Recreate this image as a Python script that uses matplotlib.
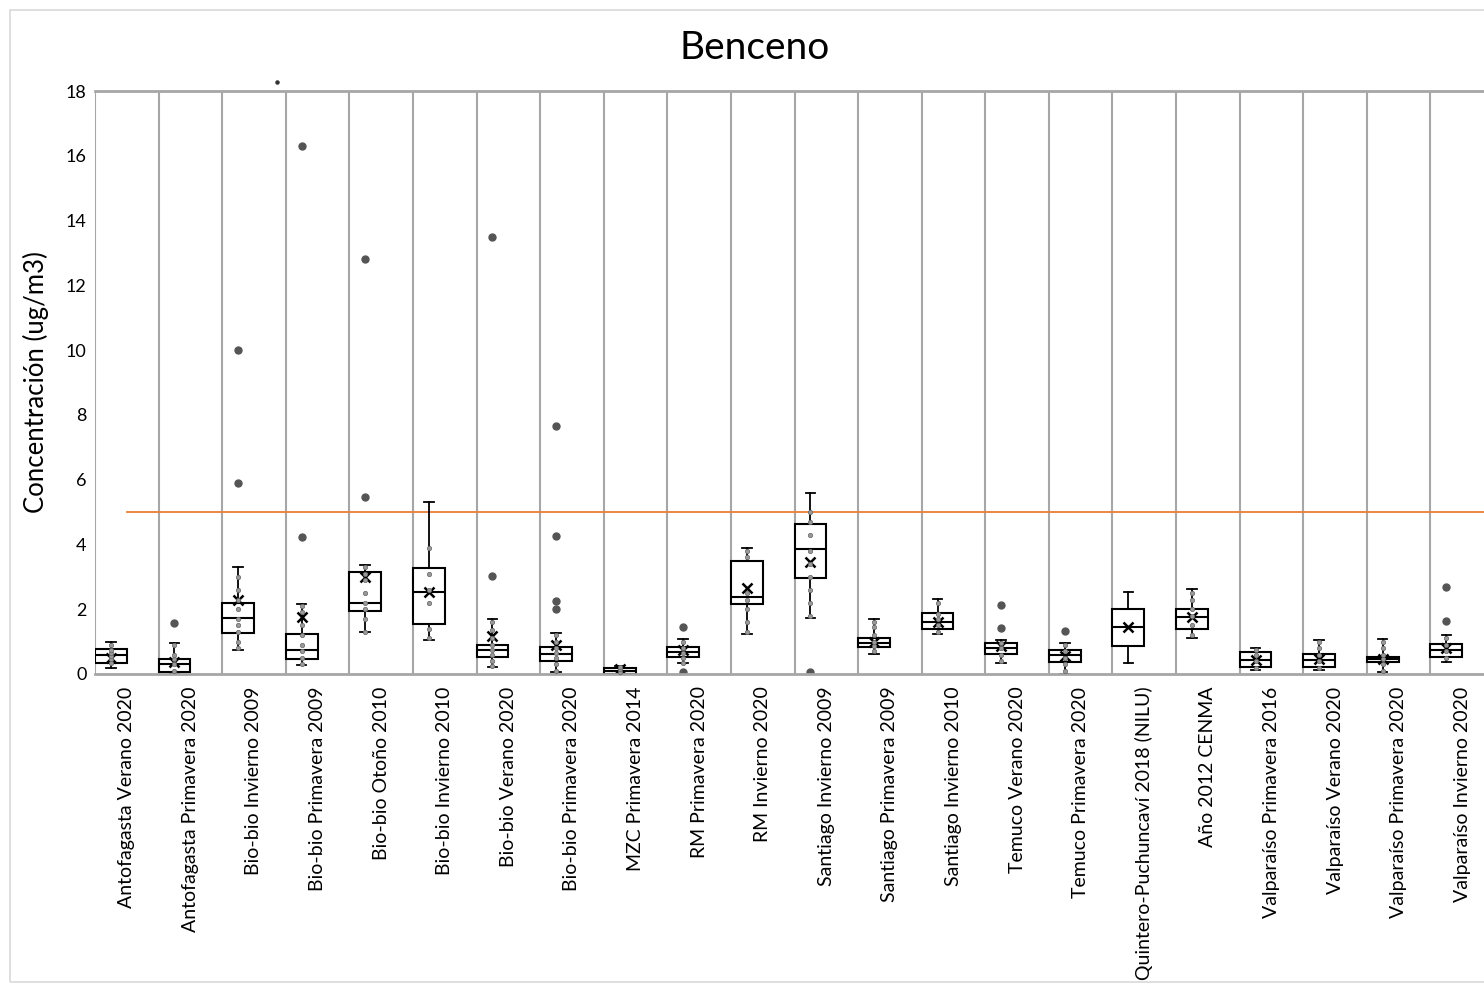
import matplotlib
matplotlib.use("Agg")
import matplotlib.pyplot as plt
from matplotlib.patches import Rectangle

plt.rcParams['font.family'] = ['Lato', 'DejaVu Sans']

categories = [
    "Antofagasta Verano 2020", "Antofagasta Primavera 2020", "Bio-bio Invierno 2009",
    "Bio-bio Primavera 2009", "Bio-bio Otoño 2010", "Bio-bio Invierno 2010",
    "Bio-bio Verano 2020", "Bio-bio Primavera 2020", "MZC Primavera 2014",
    "RM Primavera 2020", "RM Invierno 2020", "Santiago Invierno 2009",
    "Santiago Primavera 2009", "Santiago Invierno 2010", "Temuco Verano 2020",
    "Temuco Primavera 2020", "Quintero-Puchuncaví 2018 (NILU)", "Año 2012 CENMA",
    "Valparaíso Primavera 2016", "Valparaíso Verano 2020", "Valparaíso Primavera 2020",
    "Valparaíso Invierno 2020",
]

q1 =      [0.35, 0.05, 1.27, 0.46, 1.94, 1.54, 0.52, 0.40, 0.00, 0.52, 2.16, 2.96, 0.83, 1.39, 0.62, 0.37, 0.86, 1.39, 0.22, 0.22, 0.37, 0.52]
medians = [0.60, 0.30, 1.73, 0.74, 2.19, 2.53, 0.74, 0.62, 0.10, 0.68, 2.38, 3.86, 0.96, 1.60, 0.80, 0.59, 1.45, 1.76, 0.43, 0.43, 0.45, 0.74]
q3 =      [0.78, 0.47, 2.19, 1.23, 3.15, 3.27, 0.90, 0.83, 0.20, 0.83, 3.49, 4.63, 1.10, 1.88, 0.96, 0.74, 2.00, 2.00, 0.68, 0.62, 0.52, 0.93]
whislo =  [0.20, 0.00, 0.74, 0.28, 1.30, 1.05, 0.22, 0.06, 0.00, 0.34, 1.23, 1.73, 0.62, 1.23, 0.34, 0.00, 0.34, 1.11, 0.12, 0.12, 0.06, 0.37]
whishi =  [0.98, 0.95, 3.30, 2.16, 3.36, 5.30, 1.70, 1.27, 0.25, 1.08, 3.89, 5.59, 1.70, 2.31, 1.05, 0.96, 2.53, 2.62, 0.80, 1.05, 1.08, 1.20]
means =   [0.50, 0.38, 2.30, 1.76, 3.00, 2.53, 1.17, 0.90, 0.15, 0.74, 2.65, 3.46, 1.00, 1.60, 0.86, 0.56, 1.45, 1.76, 0.43, 0.45, 0.45, 0.80]
outliers = [
    [], [1.57], [10.0, 5.9], [16.3, 4.23], [12.8, 5.45], [], [13.5, 3.03],
    [7.65, 4.25, 2.25, 2.0], [], [1.45, 0.06], [], [0.06], [], [], [2.13, 1.42],
    [1.33], [], [], [], [], [], [2.69, 1.64],
]
inner_points = [
    [0.35, 0.45, 0.55, 0.65, 0.75, 0.9],
    [0.1, 0.3, 0.45, 0.6, 0.9],
    [0.8, 1.0, 1.3, 1.5, 1.7, 2.0, 2.3, 2.6, 3.0],
    [0.3, 0.5, 0.7, 0.9, 1.2, 1.5, 1.9, 2.1],
    [1.3, 1.7, 2.0, 2.2, 2.5, 2.9, 3.1, 3.3],
    [1.1, 1.4, 2.2, 2.6, 3.1, 3.9],
    [0.25, 0.4, 0.6, 0.75, 0.9, 1.1, 1.35, 1.6],
    [0.1, 0.3, 0.5, 0.65, 0.8, 1.0, 1.2],
    [0.05, 0.15, 0.22],
    [0.35, 0.5, 0.65, 0.8, 1.0],
    [1.3, 1.6, 2.0, 2.3, 2.5, 3.6, 3.8],
    [1.8, 2.2, 2.6, 3.0, 3.4, 3.8, 4.3, 4.7, 5.0],
    [0.7, 0.85, 1.0, 1.2, 1.45, 1.6],
    [1.3, 1.5, 1.7, 1.85, 2.2],
    [0.4, 0.6, 0.8, 0.95],
    [0.1, 0.3, 0.5, 0.7, 0.9],
    [],
    [1.2, 1.5, 1.8, 2.0, 2.3, 2.5],
    [0.2, 0.4, 0.6, 0.75],
    [0.2, 0.4, 0.6, 0.8, 1.0],
    [0.1, 0.3, 0.45, 0.6, 0.8, 1.0],
    [0.5, 0.7, 0.9, 1.1],
]
limit_value = 5
y_ticks = [0, 2, 4, 6, 8, 10, 12, 14, 16, 18]
stray_x = [2.36]
stray_y = [18.27]

W, H = 1484, 986
fig = plt.figure(figsize=(W / 100, H / 100), dpi=100)
fig.patches.append(Rectangle((10 / W, 1 - 982 / H), 1.2, (982 - 10) / H,
                             transform=fig.transFigure, fill=False,
                             edgecolor='#d9d9d9', lw=1.2))

ax = fig.add_axes([95 / W, 1 - 674 / H, (1494 - 95) / W, (674 - 91) / H])
n = len(categories)
offset = -0.25
positions = [i + offset for i in range(n)]

stats = []
for i in range(n):
    stats.append(dict(med=medians[i], q1=q1[i], q3=q3[i], whislo=whislo[i],
                      whishi=whishi[i], mean=means[i], fliers=outliers[i],
                      label=categories[i]))

ax.bxp(stats, positions=positions, widths=0.5, showmeans=True, patch_artist=True,
       boxprops=dict(facecolor='white', edgecolor='black', lw=1.5),
       medianprops=dict(color='black', lw=1.5),
       whiskerprops=dict(color='black', lw=1.3),
       capprops=dict(color='black', lw=1.3),
       capwidths=0.15,
       meanprops=dict(marker='x', markeredgecolor='black', markersize=7, mew=1.8),
       flierprops=dict(marker='o', markerfacecolor='#555555', markeredgecolor='#555555',
                       markersize=5))

for i, pts in enumerate(inner_points):
    if pts:
        ax.scatter([positions[i]] * len(pts), pts, s=10, facecolor='#999999',
                   edgecolor='#666666', lw=0.5, zorder=4)

ax.plot([0, n - 0.5], [limit_value, limit_value], color='#ED7D31', lw=1.3, zorder=1)
ax.scatter(stray_x, stray_y, s=5, color='#333333', clip_on=False)

ax.set_xlim(-0.5, n - 0.5)
ax.set_ylim(0, 18)
ax.set_yticks(y_ticks)
ax.set_yticklabels([str(t) for t in y_ticks], fontsize=13)
ax.set_xticks(range(n))
ax.set_xticklabels(categories, rotation=90, fontsize=14, va='top', ha='center')
ax.tick_params(axis='both', length=0, pad=6)
ax.tick_params(axis='x', pad=9)

for b in range(n + 1):
    ax.axvline(b - 0.5, color='#a6a6a6', lw=1.5, zorder=0)
for s in ['left', 'right']:
    ax.spines[s].set_visible(False)
ax.spines['top'].set_color('#a6a6a6')
ax.spines['top'].set_linewidth(2)
ax.spines['bottom'].set_color('#a6a6a6')
ax.spines['bottom'].set_linewidth(2)

ax.set_ylabel('Concentración (ug/m3)', fontsize=18.5, labelpad=12)
fig.text(755 / W, 1 - 48 / H, 'Benceno', fontsize=28, ha='center', va='center')

fig.savefig('out.png', dpi=100)
